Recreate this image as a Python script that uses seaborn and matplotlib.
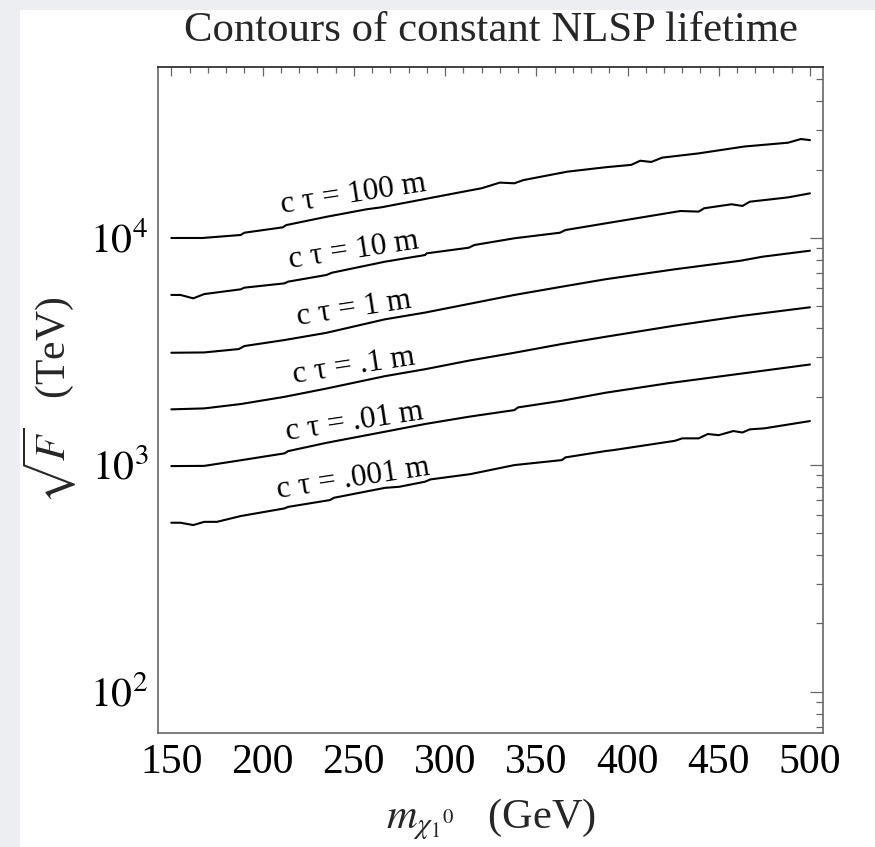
import matplotlib
matplotlib.use("Agg")
import matplotlib.pyplot as plt
from matplotlib.patches import Rectangle
from matplotlib.ticker import FixedLocator, FixedFormatter, MultipleLocator, LogLocator, NullFormatter
import seaborn as sns
import pandas as pd

# ---------------- data ----------------
m_100 = [150, 167, 188, 190, 211, 213, 235, 257, 265, 288, 313, 320, 330, 338, 343, 367,
         388, 402, 407, 413, 419, 439, 464, 488, 495, 500]
F_100 = [1.00e4, 1.00e4, 1.031e4, 1.055e4, 1.114e4, 1.14e4, 1.24e4, 1.338e4, 1.365e4, 1.48e4,
         1.617e4, 1.656e4, 1.754e4, 1.742e4, 1.80e4, 1.96e4, 2.05e4, 2.10e4, 2.19e4, 2.163e4,
         2.26e4, 2.36e4, 2.53e4, 2.63e4, 2.73e4, 2.70e4]

m_10 = [150, 155, 162, 168, 188, 190, 212, 214, 235, 238, 261, 267, 289, 290, 313, 316,
        338, 363, 366, 388, 429, 439, 442, 457, 463, 467, 488, 500]
F_10 = [5.61e3, 5.61e3, 5.42e3, 5.66e3, 5.94e3, 6.04e3, 6.31e3, 6.42e3, 6.87e3, 7.03e3,
        7.68e3, 7.86e3, 8.41e3, 8.56e3, 9.06e3, 9.31e3, 9.97e3, 1.055e4, 1.084e4, 1.16e4,
        1.315e4, 1.307e4, 1.352e4, 1.408e4, 1.384e4, 1.445e4, 1.51e4, 1.573e4]

m_1 = [150, 168, 187, 190, 212, 235, 267, 289, 313, 338, 364, 388, 426, 462, 474, 500]
F_1 = [3.12e3, 3.13e3, 3.24e3, 3.34e3, 3.55e3, 3.82e3, 4.38e3, 4.69e3, 5.12e3, 5.61e3,
       6.10e3, 6.58e3, 7.28e3, 7.94e3, 8.27e3, 8.79e3]

m_01 = [150, 168, 188, 212, 235, 267, 289, 313, 338, 364, 388, 426, 462, 500]
F_01 = [1.757e3, 1.774e3, 1.854e3, 1.995e3, 2.17e3, 2.46e3, 2.64e3, 2.88e3, 3.12e3,
        3.41e3, 3.67e3, 4.11e3, 4.53e3, 4.95e3]

m_001 = [150, 168, 186, 212, 214, 235, 267, 289, 313, 338, 340, 364, 388, 422, 470, 500]
F_001 = [988, 990, 1042, 1124, 1150, 1251, 1400, 1514, 1630, 1744, 1792, 1917, 2080,
         2288, 2573, 2770]

m_0001 = [150, 155, 162, 168, 175, 188, 212, 214, 237, 239, 267, 275, 289, 292, 314, 338,
          364, 366, 388, 392, 426, 430, 439, 444, 450, 458, 463, 467, 475, 500]
F_0001 = [556, 556, 543, 561, 561, 595, 643, 653, 700, 716, 792, 801, 843, 863, 911, 998,
          1050, 1079, 1151, 1161, 1277, 1309, 1309, 1368, 1352, 1410, 1389, 1434, 1449, 1560]

curve_names = ["c τ = 100 m", "c τ = 10 m", "c τ = 1 m", "c τ = .1 m", "c τ = .01 m", "c τ = .001 m"]
curve_m = [m_100, m_10, m_1, m_01, m_001, m_0001]
curve_F = [F_100, F_10, F_1, F_01, F_001, F_0001]

# label anchor positions (baseline centre) in data coordinates
label_m = [250.4, 250.4, 250.9, 250.4, 251.0, 250.4]
label_F = [1.436e4, 8.16e3, 4.50e3, 2.53e3, 1.439e3, 807]

xticks = [150, 200, 250, 300, 350, 400, 450, 500]
xtick_labels = ["150", "200", "250", "300", "350", "400", "450", "500"]
yticks = [1e2, 1e3, 1e4]
ytick_labels = [r"$10^{2}$", r"$10^{3}$", r"$10^{4}$"]

title = "Contours of constant NLSP lifetime"
xlabel = r"$m_{\chi_{1}{}^{0}}$   (GeV)"
ylabel = r"$\sqrt{F}$   (TeV)"

# ---------------- styling ----------------
sns.set_style("white")
plt.rcParams["font.family"] = ["Liberation Serif", "DejaVu Serif"]
plt.rcParams["mathtext.fontset"] = "stix"

rows = []
for name, ms, fs in zip(curve_names, curve_m, curve_F):
    for m, f in zip(ms, fs):
        rows.append({"m": m, "F": f, "curve": name})
df = pd.DataFrame(rows)

fig = plt.figure(figsize=(8.75, 8.47), dpi=100)
fig.patch.set_facecolor("#eceef1")
fig.add_artist(Rectangle((20 / 875, 0), 1 - 20 / 875, 1 - 10 / 847,
                         transform=fig.transFigure, facecolor="white",
                         edgecolor="none", zorder=0))
ax = fig.add_axes([0.1806, 0.1349, 0.7603, 0.7860])
ax.set_facecolor("white")

sns.lineplot(data=df, x="m", y="F", hue="curve", hue_order=curve_names,
             palette=["black"] * len(curve_names), estimator=None, sort=True,
             legend=False, linewidth=1.5, ax=ax)

ax.set_yscale("log")
ax.set_xlim(142.7, 507.3)
ax.set_ylim(66, 5.67e4)

ax.xaxis.set_major_locator(FixedLocator(xticks))
ax.xaxis.set_major_formatter(FixedFormatter(xtick_labels))
ax.xaxis.set_minor_locator(MultipleLocator(10))
ax.yaxis.set_major_locator(FixedLocator(yticks))
ax.yaxis.set_major_formatter(FixedFormatter(ytick_labels))
ax.yaxis.set_minor_locator(LogLocator(base=10, subs=range(2, 10), numticks=20))
ax.yaxis.set_minor_formatter(NullFormatter())

frame_col = "#666666"
for side in ["left", "right", "bottom"]:
    ax.spines[side].set_color(frame_col)
    ax.spines[side].set_linewidth(1.2)
ax.spines["top"].set_color("#222222")
ax.spines["top"].set_linewidth(1.2)

ax.tick_params(axis="both", which="both", direction="in", top=True, right=True,
               color=frame_col, width=0.9, labelsize=30, labelcolor="black")
ax.tick_params(axis="x", which="major", length=6.5, pad=8)
ax.tick_params(axis="x", which="minor", length=4.2)
ax.tick_params(axis="y", which="major", length=9.4, pad=7)
ax.tick_params(axis="y", which="minor", length=5.0)

for name, lm, lf in zip(curve_names, label_m, label_F):
    ax.text(lm, lf, name, fontsize=22.5, rotation=8.7, rotation_mode="anchor",
            ha="center", va="baseline", color="black")

ax.set_title(title, fontsize=30.8, pad=18.5)
ax.set_xlabel(xlabel, fontsize=30.5, labelpad=10)
ax.set_ylabel(ylabel, fontsize=30, labelpad=8)

fig.savefig("out.png", dpi=100, facecolor=fig.get_facecolor())
